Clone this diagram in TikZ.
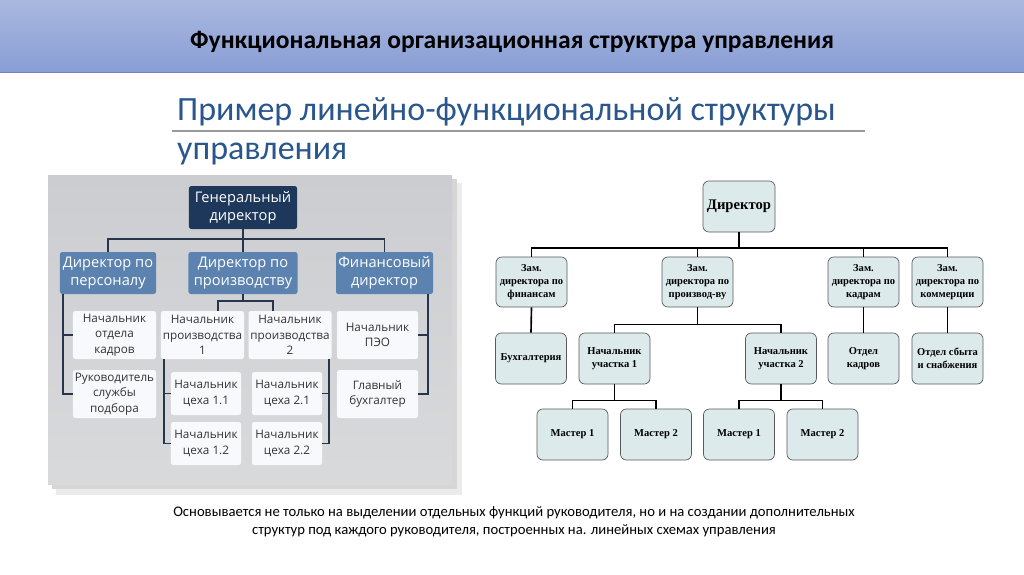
\documentclass[tikz,border=0pt]{standalone}
\usepackage{fontspec}
\setmainfont{Carlito}
\newfontfamily\chartfont{Open Sans}
\newfontfamily\serifchart{Liberation Serif}
\usetikzlibrary{positioning}

\definecolor{hdtop}{RGB}{170,184,224}
\definecolor{hdbot}{RGB}{136,158,212}
\definecolor{subblue}{RGB}{41,86,140}
\definecolor{navybox}{RGB}{29,56,90}
\definecolor{midblue}{RGB}{92,130,176}
\definecolor{unitfill}{RGB}{248,249,252}
\definecolor{navyline}{RGB}{38,52,76}
\definecolor{paleblue}{RGB}{220,234,236}
\definecolor{panelgray}{RGB}{204,205,208}

\begin{document}
\begin{tikzpicture}[
    x=0.03cm, y=-0.03cm,
    headbox/.style={rectangle, fill=navybox, text=white, rounded corners=2pt, inner sep=0pt, align=center, minimum height=1.29cm, font=\chartfont\fontsize{12.5}{15.5}\selectfont},
    deptbox/.style={rectangle, fill=midblue, text=white, rounded corners=2pt, inner sep=0pt, align=center, minimum height=1.26cm, font=\chartfont\fontsize{12.5}{15.5}\selectfont},
    unitbox/.style={rectangle, fill=unitfill, text=black!80, rounded corners=2pt, inner sep=0pt, align=center, minimum width=2.49cm, minimum height=1.44cm, font=\chartfont\fontsize{10}{13}\selectfont},
    shopbox/.style={unitbox, minimum width=2.1cm, minimum height=1.29cm},
    orgline/.style={draw=navyline, line width=1.5pt},
    rbox/.style={rectangle, draw=black!65, line width=0.6pt, fill=paleblue, rounded corners=5pt, inner sep=0pt, align=center, minimum width=2.13cm, minimum height=1.5cm, font=\serifchart\bfseries\fontsize{9}{11}\selectfont},
    rline/.style={draw=black, line width=1.4pt}
]

\useasboundingbox (0,0) rectangle (1024,574);
\fill[white] (0,0) rectangle (1024,574);

% === Header band ===
\shade[top color=hdtop, bottom color=hdbot] (0,0) rectangle (1024,72);
\draw[hdbot!85!black, line width=0.8pt] (0,72) -- (1024,72);
\node[font=\bfseries\fontsize{21.8}{25}\selectfont] (title) at (512,42) {Функциональная организационная структура управления};

% === Subtitle ===
\node[anchor=west, inner sep=0pt, text=subblue, font=\fontsize{29}{34}\selectfont] (sub1) at (177,112) {Пример линейно-функциональной структуры};
\node[anchor=west, inner sep=0pt, text=subblue, font=\fontsize{29}{34}\selectfont] (sub2) at (177,154) {управления};
\draw[black!40, line width=1.2pt] (172,131) -- (865,131);

% === Left chart: panel ===
\fill[black!8] (56,183) rectangle (462,495);
\fill[black!16] (52,179) rectangle (457,489);
\shade[top color=panelgray, bottom color=panelgray!75!white] (48,175) rectangle (452,484);

\node[headbox, minimum width=3.24cm] (gen) at (243,207.5) {Генеральный\\директор};

\node[deptbox, minimum width=2.88cm] (pers) at (108,273) {Директор по\\персоналу};
\node[deptbox, minimum width=3.27cm] (proizv) at (243,273) {Директор по\\производству};
\node[deptbox, minimum width=2.91cm] (fin) at (384.5,273) {Финансовый\\директор};

\node[unitbox] (kadry) at (114.5,335) {Начальник\\отдела\\кадров};
\node[unitbox] (ruk) at (114.5,394) {Руководитель\\службы\\подбора};
\node[unitbox] (np1) at (202.5,335) {Начальник\\производства\\1};
\node[unitbox] (np2) at (290,335) {Начальник\\производства\\2};
\node[unitbox, minimum width=2.43cm] (peo) at (377.5,335) {Начальник\\ПЭО};
\node[unitbox, minimum width=2.43cm] (buh) at (377.5,394) {Главный\\бухгалтер};

\node[shopbox] (c11) at (206,393.5) {Начальник\\цеха 1.1};
\node[shopbox] (c12) at (206,443.5) {Начальник\\цеха 1.2};
\node[shopbox] (c21) at (287,393.5) {Начальник\\цеха 2.1};
\node[shopbox] (c22) at (287,443.5) {Начальник\\цеха 2.2};

% connectors (left)
\coordinate (lbus) at (243,239);
\draw[orgline] (gen.south) -- (proizv.north);
\draw[orgline] (pers.north) |- (lbus) -| (fin.north);
\draw[orgline] (proizv.south) -- ++(0,7) -| ([xshift=0.465cm]np1.north);
\draw[orgline] (proizv.south) -- ++(0,7) -| ([xshift=-0.51cm]np2.north);
\draw[orgline] ([xshift=0.09cm]pers.south west) |- (kadry.west);
\draw[orgline] ([xshift=0.09cm]pers.south west) |- (ruk.west);
\draw[orgline] ([xshift=0.09cm]np1.south west) |- (c11.west);
\draw[orgline] ([xshift=0.09cm]np1.south west) |- (c12.west);
\draw[orgline] ([xshift=-0.09cm]np2.south east) |- (c21.east);
\draw[orgline] ([xshift=-0.09cm]np2.south east) |- (c22.east);
\draw[orgline] ([xshift=-0.15cm]fin.south east) |- (peo.east);
\draw[orgline] ([xshift=-0.15cm]fin.south east) |- (buh.east);

% === Right chart ===
\node[rbox, minimum width=2.16cm, minimum height=1.53cm, font=\serifchart\bfseries\fontsize{12.5}{14}\selectfont] (dir) at (739,206.5) {Директор};

\node[rbox] (zfin) at (531.5,282) {Зам.\\директора по\\финансам};
\node[rbox] (zpr) at (697.5,282) {Зам.\\директора по\\производ-ву};
\node[rbox] (zkad) at (863.5,282) {Зам.\\директора по\\кадрам};
\node[rbox] (zkom) at (947.5,282) {Зам.\\директора по\\коммерции};

\node[rbox, minimum height=1.53cm] (rbuh) at (531,358.5) {Бухгалтерия};
\node[rbox, minimum height=1.53cm] (uch1) at (614.5,358.5) {Начальник\\участка 1};
\node[rbox, minimum height=1.53cm] (uch2) at (781,358.5) {Начальник\\участка 2};
\node[rbox, minimum height=1.53cm] (okad) at (863.5,358.5) {Отдел\\кадров};
\node[rbox, minimum height=1.53cm] (osb) at (947.5,358.5) {Отдел сбыта\\и снабжения};

\node[rbox, minimum height=1.53cm] (m11) at (572.5,434.5) {Мастер 1};
\node[rbox, minimum height=1.53cm] (m12) at (656,434.5) {Мастер 2};
\node[rbox, minimum height=1.53cm] (m21) at (739,434.5) {Мастер 1};
\node[rbox, minimum height=1.53cm] (m22) at (822.5,434.5) {Мастер 2};

% connectors (right)
\coordinate (rbus) at (739,248);
\draw[rline] (dir.south) -- (rbus);
\draw[rline] (zfin.north) |- (rbus) -| (zkom.north);
\draw[rline] (zpr.north) -- (zpr.north |- rbus);
\draw[rline] (zkad.north) -- (zkad.north |- rbus);
\draw[rline] (zfin.south) -- (rbuh.north);
\draw[rline] (zkad.south) -- (okad.north);
\draw[rline] (zkom.south) -- (osb.north);
\draw[rline] (zpr.south) -- ++(0,17) -| (uch1.north);
\draw[rline] (zpr.south) -- ++(0,17) -| (uch2.north);
\draw[rline] (uch1.south) -- ++(0,16) -| (m11.north);
\draw[rline] (uch1.south) -- ++(0,16) -| (m12.north);
\draw[rline] (uch2.south) -- ++(0,16) -| (m21.north);
\draw[rline] (uch2.south) -- ++(0,16) -| (m22.north);

% === Footnote ===
\node[align=center, font=\fontsize{12.5}{15.5}\selectfont] (note) at (514,522) {Основывается не только на выделении отдельных функций руководителя, но и на создании дополнительных\\структур под каждого руководителя, построенных на. линейных схемах управления};

\end{tikzpicture}
\end{document}
